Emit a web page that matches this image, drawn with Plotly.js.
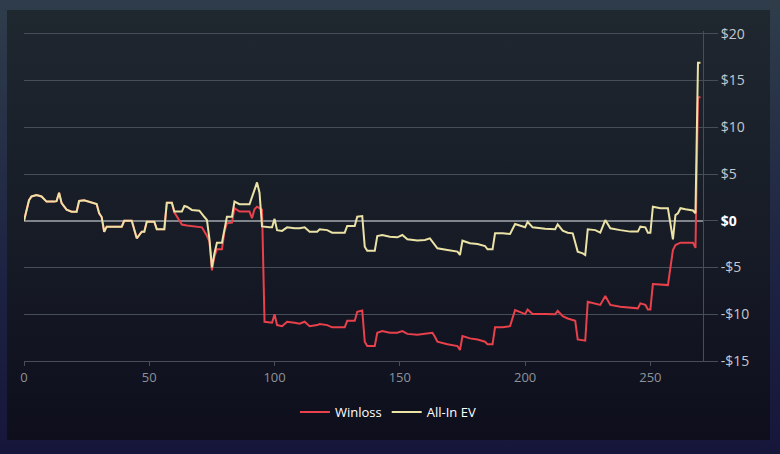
<!DOCTYPE html>
<html>
<head>
<meta charset="utf-8">
<script src="https://cdn.plot.ly/plotly-3.0.1.min.js"></script>
<style>
    html, body {
        margin: 0;
        padding: 0;
        width: 780px;
        height: 454px;
        overflow: hidden;
        background: linear-gradient(#2f3d4b, #1d2342 60%, #16163a);
        font-family: "Open Sans", sans-serif;
    }
    .panel {
        position: absolute;
        left: 7px;
        top: 10px;
        width: 763px;
        height: 430px;
        background: linear-gradient(#1f272f, #161b26 55%, #0e0e1c);
    }
    #chart {
        position: absolute;
        left: 0;
        top: 0;
        width: 780px;
        height: 454px;
    }
</style>
</head>
<body>
<div class="panel"></div>
<div id="chart"></div>
<script>
    // Winloss: hand number and running result in dollars
    const winlossHands = [
        0, 2, 3, 5, 7, 9, 12, 13, 14, 15, 17, 19, 21, 22, 24, 27, 29, 30, 31, 32,
        33, 39, 40, 43, 44, 45, 47, 48, 49, 52, 53, 56, 57, 59, 60, 61, 63, 65, 69, 71,
        73, 74, 75, 76, 77, 79, 80, 81, 83, 84, 86, 90, 91, 92, 93, 94, 95, 96, 98, 99,
        100, 101, 103, 105, 108, 110, 112, 114, 117, 118, 121, 123, 128, 129, 132, 133, 135, 136, 137, 140,
        141, 143, 146, 149, 151, 153, 157, 160, 163, 164, 165, 169, 173, 174, 175, 178, 181, 184, 185, 187,
        188, 191, 194, 196, 198, 200, 201, 203, 208, 212, 213, 215, 217, 219, 220, 221, 224, 225, 228, 230,
        232, 234, 238, 242, 245, 246, 248, 249, 250, 251, 257, 259, 260, 262, 267, 268, 269, 270
    ];
    const winloss = [
        0, 2.2, 2.6, 2.75, 2.6, 2.05, 2.05, 2.1, 3.0, 1.9, 1.2, 0.97, 0.97, 2.12, 2.2, 1.95, 1.8, 0.8, 0.4, -1.17,
        -0.63, -0.63, 0, 0, -1.0, -1.88, -1.17, -1.17, -0.1, -0.1, -0.9, -0.9, 1.94, 1.94, 0.9, 0.5, -0.4, -0.5, -0.6, -0.7,
        -1.6, -2.2, -5.3, -3.84, -3.05, -3.05, -1.17, -0.27, -0.2, 1.34, 0.98, 0.98, 0.27, 1.23, 1.51, 1.34, 1.2, -10.8, -10.9, -10.9,
        -10.0, -11.16, -11.27, -10.8, -10.9, -11.0, -10.8, -11.27, -11.16, -11.05, -11.16, -11.4, -11.4, -10.7, -10.7, -9.73, -9.6, -12.94, -13.4, -13.4,
        -11.98, -11.8, -11.98, -11.98, -11.8, -12.1, -12.2, -12.1, -11.98, -12.4, -12.94, -13.2, -13.4, -13.83, -12.33, -12.58, -12.7, -12.94, -13.2, -13.2,
        -11.4, -11.4, -11.27, -9.55, -9.73, -9.98, -9.5, -9.98, -9.98, -10.0, -9.63, -10.2, -10.45, -10.6, -10.7, -12.7, -12.83, -8.66, -8.84, -9.0,
        -8.05, -9.0, -9.2, -9.27, -9.37, -8.84, -9.0, -9.48, -9.48, -6.77, -6.88, -3.13, -2.6, -2.34, -2.34, -2.9, 13.2, 13.2
    ];

    // All-In EV: hand number and expected result in dollars
    const evHands = [
        0, 2, 3, 5, 7, 9, 12, 13, 14, 15, 17, 19, 21, 22, 24, 27, 29, 30, 31, 32,
        33, 39, 40, 43, 44, 45, 47, 48, 49, 52, 53, 56, 57, 59, 60, 63, 64, 65, 67, 69,
        70, 72, 73, 74, 75, 76, 77, 79, 80, 81, 83, 84, 86, 90, 92, 93, 94, 95, 98, 99,
        100, 101, 103, 105, 108, 110, 112, 114, 117, 118, 121, 123, 128, 129, 132, 133, 135, 136, 137, 140,
        141, 143, 146, 149, 151, 153, 157, 160, 162, 163, 165, 169, 173, 174, 175, 178, 181, 184, 185, 187,
        188, 191, 194, 196, 198, 200, 201, 203, 208, 212, 213, 215, 217, 219, 221, 223, 224, 225, 228, 230,
        232, 234, 238, 242, 245, 246, 248, 249, 250, 251, 254, 257, 259, 260, 261, 262, 264, 267, 268, 269,
        270
    ];
    const allInEv = [
        0, 2.2, 2.6, 2.75, 2.6, 2.05, 2.05, 2.1, 3.0, 1.9, 1.2, 0.97, 0.97, 2.12, 2.2, 1.95, 1.8, 0.8, 0.4, -1.17,
        -0.63, -0.63, 0, 0, -1.0, -1.88, -1.17, -1.17, -0.1, -0.1, -0.9, -0.9, 1.94, 1.94, 0.98, 0.98, 1.58, 1.5, 1.16, 1.1,
        1.08, 0.4, 0.1, -1.9, -5.0, -3.5, -2.34, -2.34, -0.8, 0.44, 0.44, 2.05, 1.77, 1.77, 3.3, 4.1, 3.0, -0.6, -0.7, -0.7,
        0.2, -1.0, -1.08, -0.7, -0.8, -0.8, -0.7, -1.17, -1.17, -0.9, -1.0, -1.27, -1.27, -0.56, -0.56, 0.44, 0.5, -2.77, -3.2, -3.2,
        -1.63, -1.52, -1.7, -1.77, -1.52, -1.98, -2.12, -2.05, -1.88, -2.23, -2.95, -3.13, -3.3, -3.66, -2.13, -2.4, -2.48, -2.7, -3.05, -3.05,
        -1.34, -1.34, -1.41, -0.34, -0.56, -0.7, -0.1, -0.7, -0.85, -0.91, -0.38, -1.06, -1.27, -1.34, -3.3, -3.48, -3.66, -0.91, -1.0, -1.27,
        0.08, -0.8, -1.0, -1.16, -1.16, -0.63, -0.7, -1.27, -1.27, 1.51, 1.34, 1.34, -1.98, 0.6, 0.8, 1.34, 1.23, 1.1, 0.8, 16.9,
        16.9
    ];

    // Axis ticks
    const xTicks = [0, 50, 100, 150, 200, 250];
    const yTicks = [-15, -10, -5, 0, 5, 10, 15, 20];
    const yTickText = ['-$15', '-$10', '-$5', '<span style="color:#ffffff"><b>$0</b></span>', '$5', '$10', '$15', '$20'];

    const gridColor = '#474e57';

    const traces = [
        {
            x: winlossHands,
            y: winloss,
            name: 'Winloss',
            type: 'scatter',
            mode: 'lines',
            line: { color: '#e8414b', width: 2 },
            hoverinfo: 'skip'
        },
        {
            x: evHands,
            y: allInEv,
            name: 'All-In EV',
            type: 'scatter',
            mode: 'lines',
            line: { color: '#ebe2a6', width: 2 },
            hoverinfo: 'skip'
        }
    ];

    const layout = {
        width: 780,
        height: 454,
        paper_bgcolor: 'rgba(0,0,0,0)',
        plot_bgcolor: 'rgba(0,0,0,0)',
        margin: { l: 24, r: 77, t: 31, b: 93, autoexpand: false },
        font: { family: '"Open Sans", sans-serif', color: '#c4c8ce', size: 13 },
        showlegend: true,
        legend: {
            orientation: 'h',
            x: 0.536,
            xanchor: 'center',
            y: -0.155,
            yanchor: 'middle',
            font: { color: '#ffffff', size: 13 },
            bgcolor: 'rgba(0,0,0,0)'
        },
        xaxis: {
            range: [0, 271],
            tickvals: xTicks,
            ticks: 'outside',
            ticklen: 4,
            tickcolor: gridColor,
            showgrid: false,
            zeroline: false,
            showline: true,
            linecolor: gridColor,
            linewidth: 1,
            tickfont: { color: '#8d929b', size: 13 },
            automargin: false,
            fixedrange: true
        },
        yaxis: {
            side: 'right',
            range: [-15, 20.3],
            tickvals: yTicks,
            ticktext: yTickText,
            ticks: 'outside',
            ticklen: 14,
            tickcolor: gridColor,
            showgrid: true,
            gridcolor: gridColor,
            gridwidth: 1,
            zeroline: true,
            zerolinecolor: '#80858c',
            zerolinewidth: 1.5,
            showline: true,
            linecolor: gridColor,
            linewidth: 1,
            tickfont: { color: '#c4c8ce', size: 14 },
            automargin: false,
            fixedrange: true
        }
    };

    Plotly.newPlot('chart', traces, layout, { displayModeBar: false, staticPlot: true });
</script>
</body>
</html>
